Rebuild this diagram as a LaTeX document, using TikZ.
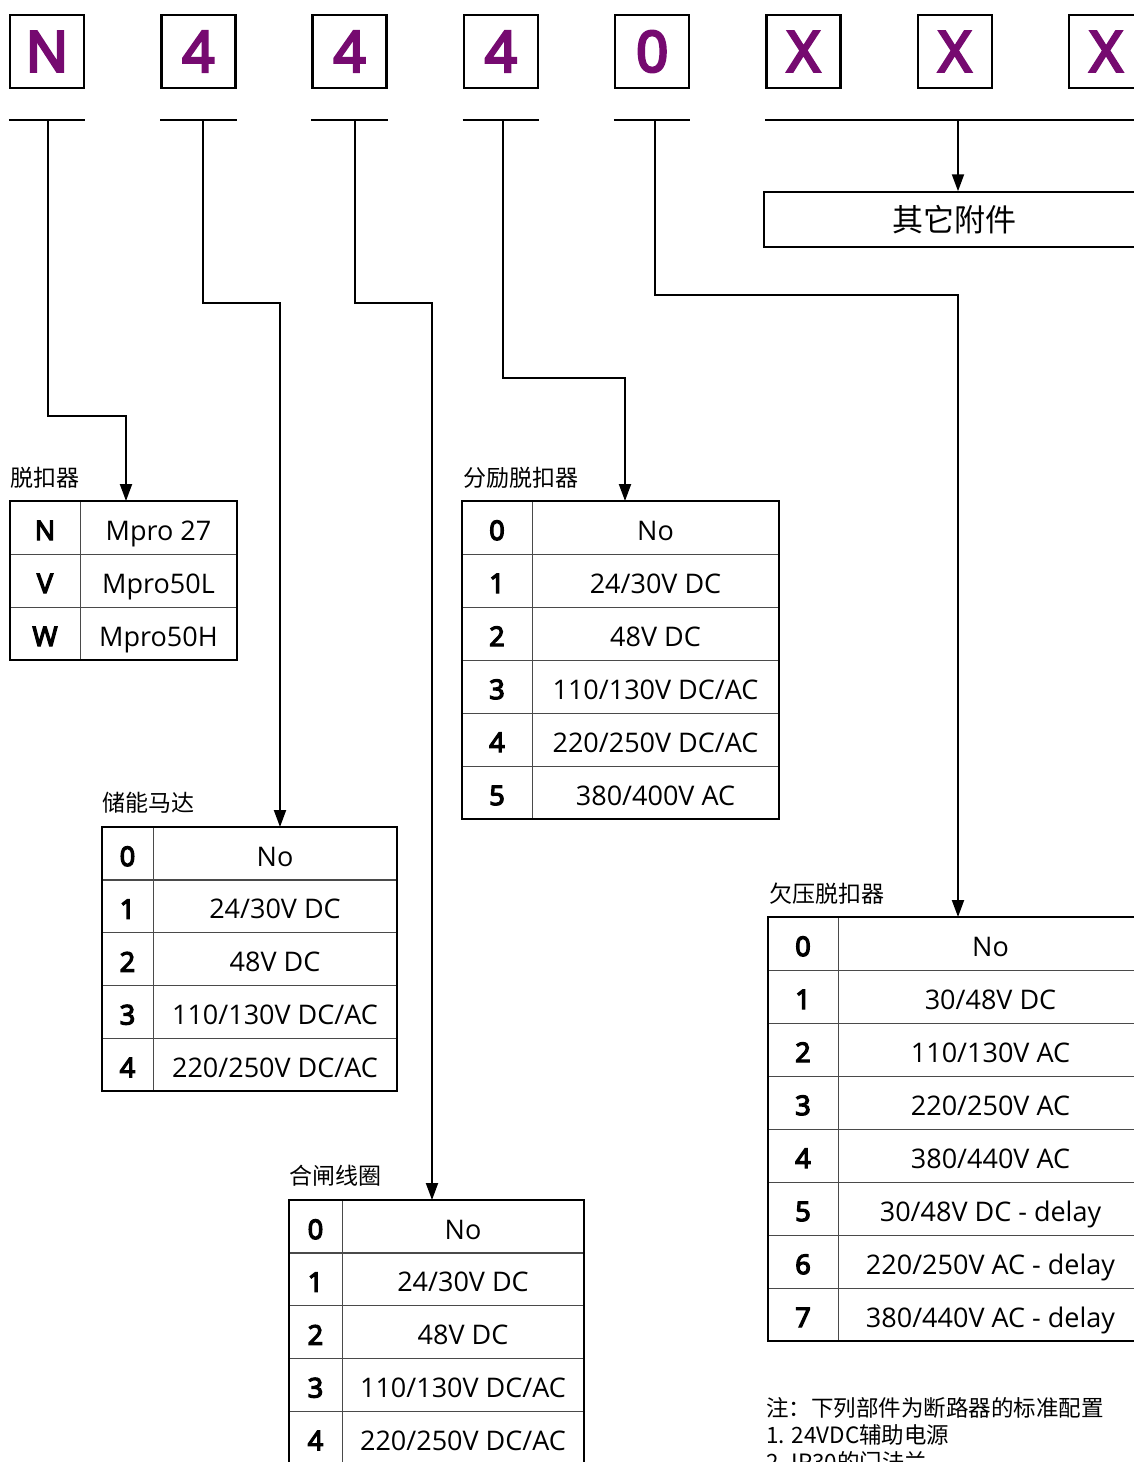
\documentclass[tikz,border=0pt]{standalone}
\usepackage{fontspec}
\setmainfont{Open Sans}[AutoFakeBold=5]
\newfontfamily\cjk{Noto Sans CJK SC}
\usetikzlibrary{arrows.meta,positioning}
\definecolor{codepurple}{HTML}{760A70}
\definecolor{gridgray}{HTML}{4A4A4A}

\begin{document}
\begin{tikzpicture}[
  x=1pt, y=-1pt,
  codebox/.style={rectangle, draw=black, line width=2.5pt, minimum width=74pt, minimum height=73pt, inner sep=0pt, text=codepurple, font=\fontsize{56}{56}\selectfont\bfseries},
  keycell/.style={rectangle, draw=gridgray, line width=1pt, minimum height=53pt, inner sep=0pt, outer sep=0pt, anchor=north west, text height=25pt, text depth=0pt, font=\fontsize{27}{27}\selectfont\bfseries},
  valcell/.style={rectangle, draw=gridgray, line width=1pt, minimum height=53pt, inner sep=0pt, outer sep=0pt, text height=25pt, text depth=0pt, font=\fontsize{27}{27}\selectfont},
  tablelabel/.style={anchor=base west, inner sep=0pt, font=\cjk\fontsize{23}{23}\selectfont},
  notetext/.style={anchor=base west, inner sep=0pt, font=\cjk\fontsize{22.5}{22.5}\selectfont},
  tableframe/.style={draw=black, line width=2pt},
  underbar/.style={line width=2pt},
  flowarrow/.style={-{Triangle[width=12pt,length=17pt]}, line width=2pt}
]
  \useasboundingbox (0,0) rectangle (1134,1462);
  \clip (0,0) rectangle (1134,1462);

  % Type code boxes
  \foreach \c [count=\i] in {N,4,4,4,0,X,X,X}
    \node[codebox] (n\i) at (47+151.3*\i-151.3, 51.5) {\c};

  % Underline bars
  \coordinate (u1) at (48,120);
  \coordinate (u2) at (203,120);
  \coordinate (u3) at (355,120);
  \coordinate (u4) at (503,120);
  \coordinate (u5) at (655,120);
  \coordinate (u6) at (958,120);
  \draw[underbar] (n1.south west |- u1) -- (n1.south east |- u1);
  \draw[underbar] (n2.south west |- u2) -- (n2.south east |- u2);
  \draw[underbar] (n3.south west |- u3) -- (n3.south east |- u3);
  \draw[underbar] (n4.south west |- u4) -- (n4.south east |- u4);
  \draw[underbar] (n5.south west |- u5) -- (n5.south east |- u5);
  \draw[underbar] (n6.south west |- u6) -- (n8.south east |- u6);

  % Other accessories
  \node[rectangle, draw=black, line width=1.5pt, minimum width=380pt, minimum height=55pt, font=\cjk\fontsize{31}{31}\selectfont] (other) at (954,219.5) {其它附件};

  % Trip unit
  \node[tablelabel] (trip-lbl) at (10,486) {脱扣器};
  \node[keycell, minimum width=70pt] (trip-k0) at (10,501) {N};
  \node[valcell, minimum width=157pt, right=0pt of trip-k0] (trip-v0) {Mpro 27};
  \node[keycell, minimum width=70pt] (trip-k1) at (10,554) {V};
  \node[valcell, minimum width=157pt, right=0pt of trip-k1] (trip-v1) {Mpro50L};
  \node[keycell, minimum width=70pt] (trip-k2) at (10,607) {W};
  \node[valcell, minimum width=157pt, right=0pt of trip-k2] (trip-v2) {Mpro50H};
  \draw[tableframe] (trip-k0.north west) rectangle (trip-v2.south east);

  % Charging motor
  \node[tablelabel] (mot-lbl) at (102,811) {储能马达};
  \foreach \v [count=\i from 0] in {No, 24/30V DC, 48V DC, 110/130V DC/AC, 220/250V DC/AC} {
    \node[keycell, minimum width=51pt] (mot-k\i) at (102, 827+52.8*\i) {\i};
    \node[valcell, minimum width=244pt, right=0pt of mot-k\i] (mot-v\i) {\v};
  }
  \draw[tableframe] (mot-k0.north west) rectangle (mot-v4.south east);

  % Closing coil
  \node[tablelabel] (coil-lbl) at (289,1184) {合闸线圈};
  \foreach \v [count=\i from 0] in {No, 24/30V DC, 48V DC, 110/130V DC/AC, 220/250V DC/AC} {
    \node[keycell, minimum width=53pt] (coil-k\i) at (289, 1200+52.8*\i) {\i};
    \node[valcell, minimum width=242pt, right=0pt of coil-k\i] (coil-v\i) {\v};
  }
  \draw[tableframe] (coil-k0.north west) rectangle (coil-v4.south east);

  % Shunt release
  \node[tablelabel] (shunt-lbl) at (463,486) {分励脱扣器};
  \foreach \v [count=\i from 0] in {No, 24/30V DC, 48V DC, 110/130V DC/AC, 220/250V DC/AC, 380/400V AC} {
    \node[keycell, minimum width=70pt] (shunt-k\i) at (462, 501+53*\i) {\i};
    \node[valcell, minimum width=247pt, right=0pt of shunt-k\i] (shunt-v\i) {\v};
  }
  \draw[tableframe] (shunt-k0.north west) rectangle (shunt-v5.south east);

  % Undervoltage release
  \node[tablelabel] (uv-lbl) at (769,902) {欠压脱扣器};
  \foreach \v [count=\i from 0] in {No, 30/48V DC, 110/130V AC, 220/250V AC, 380/440V AC, 30/48V DC - delay, 220/250V AC - delay, 380/440V AC - delay} {
    \node[keycell, minimum width=70pt] (uv-k\i) at (768, 917+53*\i) {\i};
    \node[valcell, minimum width=305pt, right=0pt of uv-k\i] (uv-v\i) {\v};
  }
  \draw[tableframe] (uv-k0.north west) rectangle (uv-v7.south east);

  % Note
  \node[notetext] (note0) at (766,1416) {注：下列部件为断路器的标准配置};
  \node[notetext] (note1) at (766,1443) {1. 24VDC辅助电源};
  \node[notetext] (note2) at (766,1470) {2. IP30的门法兰};

  % Flow arrows
  \coordinate (b1) at (126,416);
  \coordinate (b2) at (280,303);
  \coordinate (b3) at (432,303);
  \coordinate (b4) at (625,378);
  \coordinate (b5) at (958,295);
  \draw[flowarrow] (u1) |- (b1) -- (b1 |- trip-v0.north);
  \draw[flowarrow] (u2) |- (b2) -- (b2 |- mot-v0.north);
  \draw[flowarrow] (u3) |- (b3) -- (b3 |- coil-v0.north);
  \draw[flowarrow] (u4) |- (b4) -- (b4 |- shunt-v0.north);
  \draw[flowarrow] (u5) |- (b5) -- (b5 |- uv-v0.north);
  \draw[flowarrow] (u6) -- (u6 |- other.north);
\end{tikzpicture}
\end{document}
